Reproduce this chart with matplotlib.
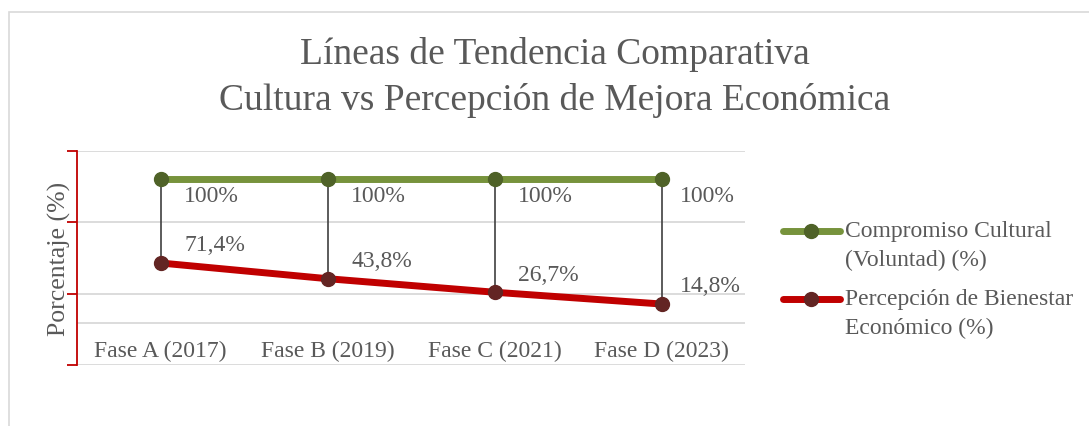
# Comparative trend lines: culture vs perceived economic improvement
import matplotlib.pyplot as plt
from matplotlib.patches import Rectangle
from matplotlib.lines import Line2D

plt.rcParams['font.family'] = ['Liberation Serif', 'DejaVu Serif']

# Data
categories = ['Fase A (2017)', 'Fase B (2019)', 'Fase C (2021)', 'Fase D (2023)']
# plotted heights as they sit on the chart's (unlabelled) axis
compromiso = [2.61, 2.61, 2.61, 2.61]
bienestar = [1.43, 1.21, 1.02, 0.855]
# data label texts shown on the chart
compromiso_labels = ['100%', '100%', '100%', '100%']
bienestar_labels = ['71,4%', '43,8%', '26,7%', '14,8%']
series_names = [['Compromiso Cultural', '(Voluntad) (%)'],
                ['Percepción de Bienestar', 'Económico (%)']]

text_col = '#595959'
green_line = '#77933C'
green_mark = '#4F6228'
red_line = '#C00000'
red_mark = '#632523'

W, H = 1089, 427
fig = plt.figure(figsize=(W / 100, H / 100), dpi=100)

# outer chart border (partially visible)
fig.patches.append(Rectangle((9 / W, -0.1), 1.2, (H - 13) / H + 0.1,
                             transform=fig.transFigure, fill=False,
                             edgecolor='#d9d9d9', lw=1.2))

ax = fig.add_axes([77 / W, 61 / H, 668 / W, 214 / H])

x = [i + 0.5 for i in range(len(categories))]

# gridlines
for g in [0, 1, 2, 3, 0.59]:
    ax.axhline(g, color='#d9d9d9', lw=1.3, zorder=0)

# drop lines
for xi, a, b in zip(x, compromiso, bienestar):
    ax.plot([xi, xi], [a, b], color='#404040', lw=1.2, zorder=1)

ax.plot(x, compromiso, color=green_line, lw=5, marker='o', ms=10,
        mfc=green_mark, mec=green_mark, zorder=3)
ax.plot(x, bienestar, color=red_line, lw=5, marker='o', ms=10,
        mfc=red_mark, mec=red_mark, zorder=3)

# data labels
for i, (xi, v, t) in enumerate(zip(x, compromiso, compromiso_labels)):
    dx = 13 if i == len(x) - 1 else 17
    ax.annotate(t, (xi, v), xytext=(dx, -12), textcoords='offset points',
                ha='left', va='center', fontsize=17, color=text_col)
for i, (xi, v, t) in enumerate(zip(x, bienestar, bienestar_labels)):
    dx = 13 if i == len(x) - 1 else 17
    ax.annotate(t, (xi, v), xytext=(dx, 13), textcoords='offset points',
                ha='left', va='center', fontsize=17, color=text_col)

# category labels
for xi, c in zip(x, categories):
    ax.text(xi, 0.2, c, ha='center', va='center', fontsize=17, color=text_col)

ax.set_xlim(0, 4)
ax.set_ylim(0, 3)
ax.set_xticks([])
ax.set_yticks([0, 1, 2, 3])
ax.set_yticklabels([])
ax.tick_params(axis='y', colors='#C00000', length=7, width=1.3)
for s in ['top', 'right', 'bottom']:
    ax.spines[s].set_visible(False)
ax.spines['left'].set_color('#C00000')
ax.spines['left'].set_linewidth(1.3)

ax.set_ylabel('Porcentaje (%)', fontsize=18.5, color=text_col, labelpad=-6)

fig.text(555 / W, 1 - 55 / H, 'Líneas de Tendencia Comparativa',
         ha='center', va='center', fontsize=27, color=text_col)
fig.text(555 / W, 1 - 100 / H, 'Cultura vs Percepción de Mejora Económica',
         ha='center', va='center', fontsize=27, color=text_col)

# legend, drawn by hand so the key sits on the first text line
for (lc, mc), names, y0 in zip([(green_line, green_mark), (red_line, red_mark)],
                               series_names, [232, 300]):
    fig.add_artist(Line2D([783 / W, 840 / W], [1 - y0 / H] * 2, color=lc, lw=5,
                          solid_capstyle='round'))
    fig.add_artist(Line2D([811 / W], [1 - y0 / H], marker='o', ms=10,
                          mfc=mc, mec=mc))
    for k, n in enumerate(names):
        fig.text(845 / W, 1 - (y0 + 28 * k) / H, n, ha='left', va='center',
                 fontsize=17, color=text_col)

fig.savefig('out.png', dpi=100)
